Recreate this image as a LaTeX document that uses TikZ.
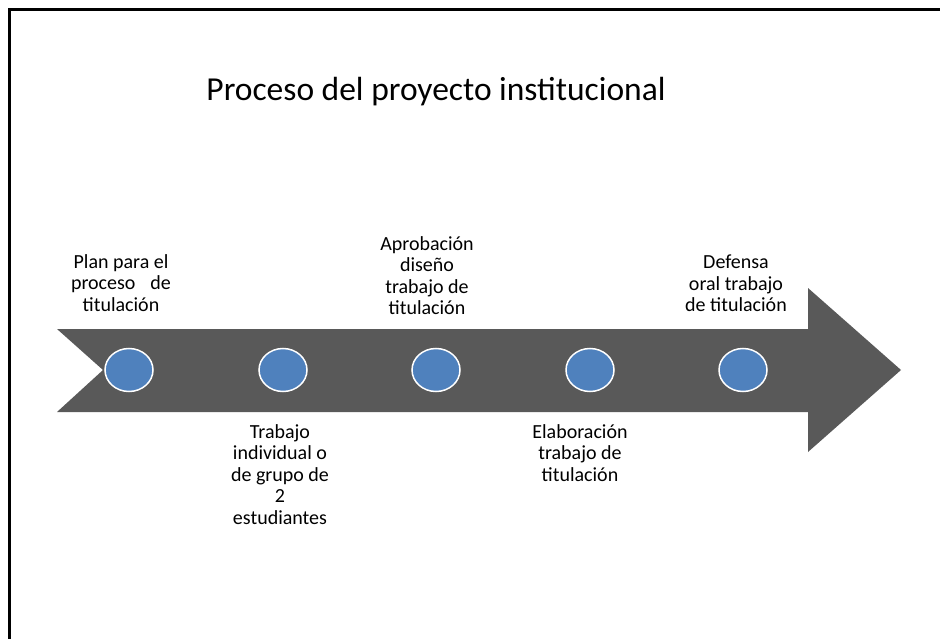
\documentclass[tikz,border=0pt]{standalone}
\usepackage{fontspec}
\setmainfont{Carlito}
\usetikzlibrary{shapes.geometric}
\definecolor{arrowgray}{HTML}{595959}
\definecolor{dotblue}{HTML}{4F81BD}
\tikzset{
	stepdot/.style={ellipse, fill=dotblue, draw=white, line width=1.5pt, inner sep=0pt, minimum width=48pt, minimum height=43pt},
	steplabel/.style={anchor=north, align=center, inner sep=0pt, font=\fontsize{20}{21.5}\selectfont}
}
\begin{document}
\begin{tikzpicture}[x=1pt,y=-1pt]
	\useasboundingbox (0,0) rectangle (940,639);
	% page frame, open to the right and below
	\fill (7.5,10) rectangle (10.5,639);
	\fill (7.5,8.5) rectangle (940,11.5);
	\node [anchor=base, font=\fontsize{33.5}{40}\selectfont] (title) at (436,101) {Proceso del proyecto institucional};
	% the arrow
	\fill[arrowgray] (57,329) -- (808,329) -- (808,288) -- (901,370) -- (808,452) -- (808,412) -- (57,412) -- (103,370) -- cycle;
	\node [stepdot] (plan) at (129,370) {};
	\node [stepdot] (trabajo) at (283,370) {};
	\node [stepdot] (aprobacion) at (436,370) {};
	\node [stepdot] (elaboracion) at (590,370) {};
	\node [stepdot] (defensa) at (743,370) {};
	% labels above and below
	\node [steplabel] (planlbl) at (121,254) {Plan para el\\proceso\hspace{15pt}de\\titulación};
	\node [steplabel] (aprobacionlbl) at (427,236) {Aprobación\\diseño\\trabajo de\\titulación};
	\node [steplabel] (defensalbl) at (736,255) {Defensa\\oral trabajo\\de titulación};
	\node [steplabel] (trabajolbl) at (280,424) {Trabajo\\individual o\\de grupo de\\2\\estudiantes};
	\node [steplabel] (elaboracionlbl) at (580,424) {Elaboración\\trabajo de\\titulación};
\end{tikzpicture}
\end{document}
